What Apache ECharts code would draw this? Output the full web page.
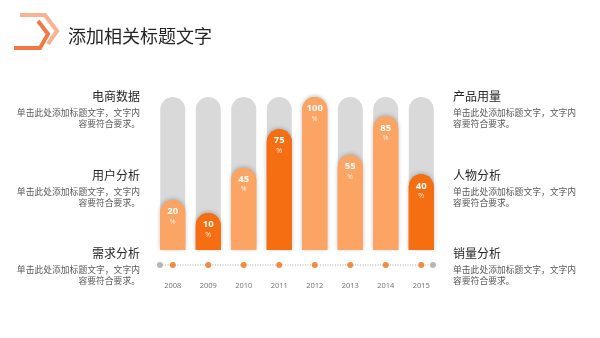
<!DOCTYPE html>
<html><head><meta charset="utf-8">
<script src="https://cdn.jsdelivr.net/npm/echarts@6/dist/echarts.min.js"></script>
<style>html,body{margin:0;padding:0;background:#fff}#c{width:600px;height:338px}</style>
</head><body><div id="c"></div>
<script>
// ---- data ----
var years = ['2008','2009','2010','2011','2012','2013','2014','2015'];
var values = [20, 10, 45, 75, 100, 55, 85, 40];
var leftTitles = ['电商数据','用户分析','需求分析'];
var rightTitles = ['产品用量','人物分析','销量分析'];
var descLine1 = '单击此处添加标题文字，文字内';
var descLine2 = '容要符合要求。';
var pageTitle = '添加相关标题文字';
var maxValue = 100;

// ---- style ----
var LIGHT = '#FBA464', DARK = '#F56E12';
var barColors = [LIGHT, DARK, LIGHT, DARK, LIGHT, LIGHT, LIGHT, DARK];
var BASE = 18.7; // decorative cap below the bars
var FONT = '"Noto Sans CJK SC","Noto Sans",sans-serif';

var chart = echarts.init(document.getElementById('c'), null, {renderer:'canvas'});

var graphics = [];
graphics.push({type:'polyline', shape:{points:[[20,15],[45,15],[57,31],[48,44]]},
  style:{stroke:'#F9B392', lineWidth:4, fill:null}, z:10});
graphics.push({type:'polyline', shape:{points:[[38,21],[48,34],[40,48],[14,48]]},
  style:{stroke:'#F27A42', lineWidth:4, fill:null}, z:11});
graphics.push({type:'text', x:68, y:36, style:{text:pageTitle, font:'18px '+FONT, fill:'#262626', verticalAlign:'middle'}});

var rowsTitleY = [96, 175, 253];
for (var i = 0; i < 3; i++) {
  var ty = rowsTitleY[i];
  graphics.push({type:'text', x:140, y:ty, style:{text:leftTitles[i], font:'12px '+FONT, fill:'#262626', align:'right', verticalAlign:'middle'}});
  graphics.push({type:'text', x:140, y:ty+17, style:{text:descLine1, font:'8.8px '+FONT, fill:'#595959', align:'right', verticalAlign:'middle'}});
  graphics.push({type:'text', x:140, y:ty+28, style:{text:descLine2, font:'8.8px '+FONT, fill:'#595959', align:'right', verticalAlign:'middle'}});
  graphics.push({type:'text', x:453, y:ty, style:{text:rightTitles[i], font:'12px '+FONT, fill:'#262626', align:'left', verticalAlign:'middle'}});
  graphics.push({type:'text', x:453, y:ty+17, style:{text:descLine1, font:'8.8px '+FONT, fill:'#595959', align:'left', verticalAlign:'middle'}});
  graphics.push({type:'text', x:453, y:ty+28, style:{text:descLine2, font:'8.8px '+FONT, fill:'#595959', align:'left', verticalAlign:'middle'}});
}

var option = {
  animation: false,
  backgroundColor: '#ffffff',
  graphic: graphics,
  grid: [
    {left:155, right:161, top:97, bottom:88},
    {left:155, right:161, top:255, height:20}
  ],
  xAxis: [
    {type:'category', gridIndex:0, data:years, show:false},
    {type:'category', gridIndex:1, data:years, axisLine:{show:false}, axisTick:{show:false},
     axisLabel:{color:'#6f6f6f', fontSize:7.5, margin:7, fontFamily:'"Open Sans",sans-serif'}},
    {type:'value', gridIndex:1, min:-0.5, max:7.5, show:false}
  ],
  yAxis: [
    {type:'value', gridIndex:0, min:0, max:maxValue+BASE, show:false, splitLine:{show:false}},
    {type:'value', gridIndex:1, min:-1, max:1, show:false}
  ],
  series: [
    {type:'bar', name:'bg', xAxisIndex:0, yAxisIndex:0, barWidth:25, barGap:'-100%', z:1,
     data: years.map(function(){return maxValue+BASE;}),
     itemStyle:{color:'#D9D9D9', borderRadius:[12.5,12.5,0,0]},
     silent:true,
     markLine:{silent:true, symbol:'none', z:1, label:{show:false},
       lineStyle:{color:'#ffffff', width:1.5, type:'solid'},
       data:[{yAxis:90.8},{yAxis:59.7}]}
    },
    {type:'bar', name:'glow', xAxisIndex:0, yAxisIndex:0, barWidth:25, barGap:'-100%', z:2, silent:true,
     data: values.map(function(v,i){return {value:v+BASE, itemStyle:{color:barColors[i]}};}),
     itemStyle:{borderRadius:[12.5,12.5,0,0], shadowBlur:4, shadowColor:'rgba(0,0,0,0.25)', shadowOffsetY:-1}
    },
    {type:'bar', name:'base', stack:'v', xAxisIndex:0, yAxisIndex:0, barWidth:25, barGap:'-100%', z:3,
     data: values.map(function(v,i){return {value:BASE, itemStyle:{color:barColors[i]}};}),
     itemStyle:{borderRadius:0}
    },
    {type:'bar', name:'value', stack:'v', xAxisIndex:0, yAxisIndex:0, barWidth:25, barGap:'-100%', z:3,
     data: values.map(function(v,i){return {value:v, itemStyle:{color:barColors[i]}};}),
     itemStyle:{borderRadius:[12.5,12.5,0,0]},
     label:{show:true, position:'insideTop', distance:6,
       formatter:function(p){return '{v|'+p.value+'}\n{p|%}';},
       rich:{
         v:{color:'#fff', fontSize:9.5, fontWeight:'bold', lineHeight:11, fontFamily:'"Open Sans",sans-serif', align:'center'},
         p:{color:'rgba(255,255,255,0.85)', fontSize:7, lineHeight:9, fontFamily:'"Open Sans",sans-serif', align:'center'}
       }}
    },
    {type:'line', name:'axisline', xAxisIndex:2, yAxisIndex:1, symbol:'none', z:1,
     data:[[-0.36,0],[7.33,0]], lineStyle:{color:'#A6A6A6', width:1, type:[1,1.5]}, silent:true},
    {type:'scatter', name:'ends', xAxisIndex:2, yAxisIndex:1, symbolSize:6, z:2,
     data:[[-0.36,0],[7.33,0]], itemStyle:{color:'#A6A6A6'}, silent:true},
    {type:'scatter', name:'dots', xAxisIndex:1, yAxisIndex:1, symbolSize:6, z:2,
     data: years.map(function(y){return [y,0];}), itemStyle:{color:DARK}, silent:true}
  ]
};
chart.setOption(option);
</script>
</body></html>
